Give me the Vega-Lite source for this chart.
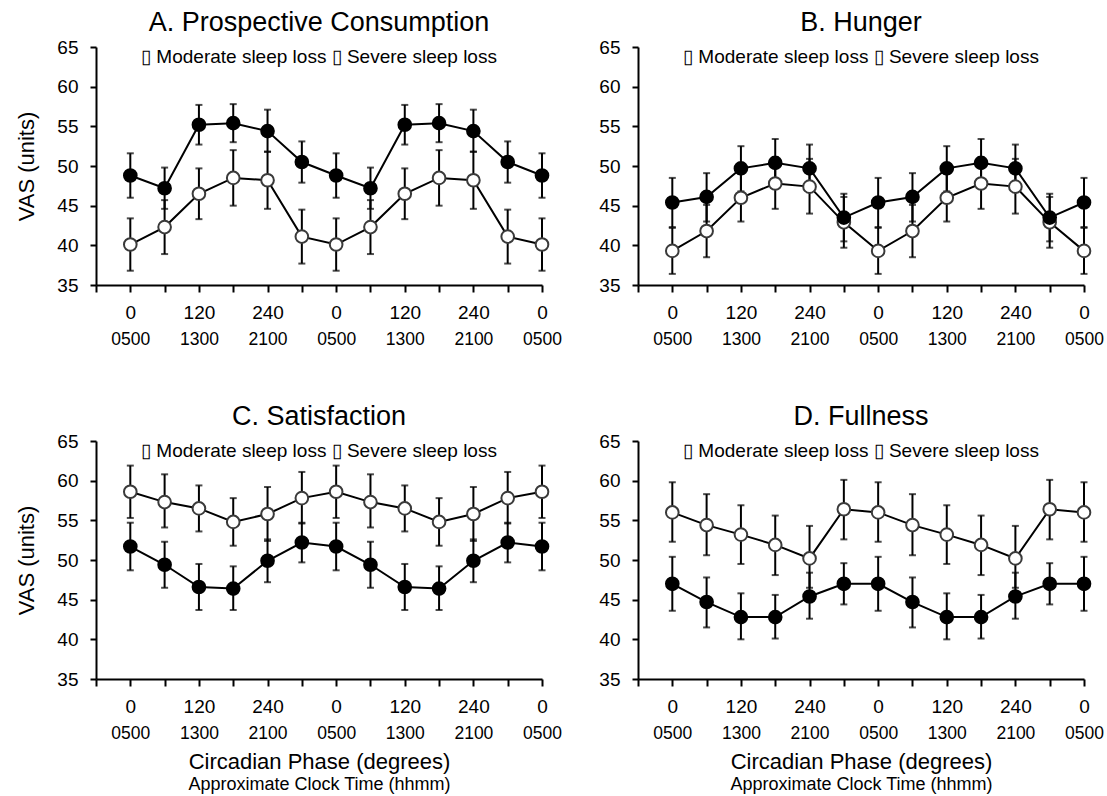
{
  "$schema": "https://vega.github.io/schema/vega-lite/v6.json",
  "padding": {"left": 15, "top": 9, "right": 5, "bottom": 2},
  "background": "white",
  "columns": 2,
  "spacing": {"column": 36, "row": 55},
  "datasets": {
    "d": [
      {"p":"A","g":"Moderate","i":0,"v":48.8,"lo":46.0,"hi":51.6},
      {"p":"A","g":"Moderate","i":1,"v":47.2,"lo":44.6,"hi":49.8},
      {"p":"A","g":"Moderate","i":2,"v":55.2,"lo":52.7,"hi":57.7},
      {"p":"A","g":"Moderate","i":3,"v":55.4,"lo":53.0,"hi":57.8},
      {"p":"A","g":"Moderate","i":4,"v":54.4,"lo":51.8,"hi":57.1},
      {"p":"A","g":"Moderate","i":5,"v":50.5,"lo":47.9,"hi":53.1},
      {"p":"A","g":"Moderate","i":6,"v":48.8,"lo":46.0,"hi":51.6},
      {"p":"A","g":"Moderate","i":7,"v":47.2,"lo":44.6,"hi":49.8},
      {"p":"A","g":"Moderate","i":8,"v":55.2,"lo":52.7,"hi":57.7},
      {"p":"A","g":"Moderate","i":9,"v":55.4,"lo":53.0,"hi":57.8},
      {"p":"A","g":"Moderate","i":10,"v":54.4,"lo":51.8,"hi":57.1},
      {"p":"A","g":"Moderate","i":11,"v":50.5,"lo":47.9,"hi":53.1},
      {"p":"A","g":"Moderate","i":12,"v":48.8,"lo":46.0,"hi":51.6},
      {"p":"A","g":"Severe","i":0,"v":40.1,"lo":36.8,"hi":43.4},
      {"p":"A","g":"Severe","i":1,"v":42.3,"lo":38.9,"hi":45.7},
      {"p":"A","g":"Severe","i":2,"v":46.5,"lo":43.3,"hi":49.7},
      {"p":"A","g":"Severe","i":3,"v":48.5,"lo":45.0,"hi":52.0},
      {"p":"A","g":"Severe","i":4,"v":48.2,"lo":44.6,"hi":51.8},
      {"p":"A","g":"Severe","i":5,"v":41.1,"lo":37.7,"hi":44.5},
      {"p":"A","g":"Severe","i":6,"v":40.1,"lo":36.8,"hi":43.4},
      {"p":"A","g":"Severe","i":7,"v":42.3,"lo":38.9,"hi":45.7},
      {"p":"A","g":"Severe","i":8,"v":46.5,"lo":43.3,"hi":49.7},
      {"p":"A","g":"Severe","i":9,"v":48.5,"lo":45.0,"hi":52.0},
      {"p":"A","g":"Severe","i":10,"v":48.2,"lo":44.6,"hi":51.8},
      {"p":"A","g":"Severe","i":11,"v":41.1,"lo":37.7,"hi":44.5},
      {"p":"A","g":"Severe","i":12,"v":40.1,"lo":36.8,"hi":43.4},
      {"p":"B","g":"Moderate","i":0,"v":45.4,"lo":42.3,"hi":48.5},
      {"p":"B","g":"Moderate","i":1,"v":46.1,"lo":43.0,"hi":49.1},
      {"p":"B","g":"Moderate","i":2,"v":49.7,"lo":46.8,"hi":52.5},
      {"p":"B","g":"Moderate","i":3,"v":50.4,"lo":47.4,"hi":53.4},
      {"p":"B","g":"Moderate","i":4,"v":49.7,"lo":46.7,"hi":52.7},
      {"p":"B","g":"Moderate","i":5,"v":43.5,"lo":40.5,"hi":46.5},
      {"p":"B","g":"Moderate","i":6,"v":45.4,"lo":42.3,"hi":48.5},
      {"p":"B","g":"Moderate","i":7,"v":46.1,"lo":43.0,"hi":49.1},
      {"p":"B","g":"Moderate","i":8,"v":49.7,"lo":46.8,"hi":52.5},
      {"p":"B","g":"Moderate","i":9,"v":50.4,"lo":47.4,"hi":53.4},
      {"p":"B","g":"Moderate","i":10,"v":49.7,"lo":46.7,"hi":52.7},
      {"p":"B","g":"Moderate","i":11,"v":43.5,"lo":40.5,"hi":46.5},
      {"p":"B","g":"Moderate","i":12,"v":45.4,"lo":42.3,"hi":48.5},
      {"p":"B","g":"Severe","i":0,"v":39.3,"lo":36.4,"hi":42.2},
      {"p":"B","g":"Severe","i":1,"v":41.8,"lo":38.5,"hi":45.1},
      {"p":"B","g":"Severe","i":2,"v":46.0,"lo":43.0,"hi":49.0},
      {"p":"B","g":"Severe","i":3,"v":47.8,"lo":44.6,"hi":51.1},
      {"p":"B","g":"Severe","i":4,"v":47.4,"lo":44.0,"hi":50.9},
      {"p":"B","g":"Severe","i":5,"v":42.9,"lo":39.7,"hi":46.1},
      {"p":"B","g":"Severe","i":6,"v":39.3,"lo":36.4,"hi":42.2},
      {"p":"B","g":"Severe","i":7,"v":41.8,"lo":38.5,"hi":45.1},
      {"p":"B","g":"Severe","i":8,"v":46.0,"lo":43.0,"hi":49.0},
      {"p":"B","g":"Severe","i":9,"v":47.8,"lo":44.6,"hi":51.1},
      {"p":"B","g":"Severe","i":10,"v":47.4,"lo":44.0,"hi":50.9},
      {"p":"B","g":"Severe","i":11,"v":42.9,"lo":39.7,"hi":46.1},
      {"p":"B","g":"Severe","i":12,"v":39.3,"lo":36.4,"hi":42.2},
      {"p":"C","g":"Moderate","i":0,"v":51.7,"lo":48.7,"hi":54.7},
      {"p":"C","g":"Moderate","i":1,"v":49.4,"lo":46.5,"hi":52.3},
      {"p":"C","g":"Moderate","i":2,"v":46.6,"lo":43.7,"hi":49.5},
      {"p":"C","g":"Moderate","i":3,"v":46.4,"lo":43.7,"hi":49.2},
      {"p":"C","g":"Moderate","i":4,"v":49.9,"lo":47.2,"hi":52.6},
      {"p":"C","g":"Moderate","i":5,"v":52.2,"lo":49.7,"hi":54.7},
      {"p":"C","g":"Moderate","i":6,"v":51.7,"lo":48.7,"hi":54.7},
      {"p":"C","g":"Moderate","i":7,"v":49.4,"lo":46.5,"hi":52.3},
      {"p":"C","g":"Moderate","i":8,"v":46.6,"lo":43.7,"hi":49.5},
      {"p":"C","g":"Moderate","i":9,"v":46.4,"lo":43.7,"hi":49.2},
      {"p":"C","g":"Moderate","i":10,"v":49.9,"lo":47.2,"hi":52.6},
      {"p":"C","g":"Moderate","i":11,"v":52.2,"lo":49.7,"hi":54.7},
      {"p":"C","g":"Moderate","i":12,"v":51.7,"lo":48.7,"hi":54.7},
      {"p":"C","g":"Severe","i":0,"v":58.6,"lo":55.3,"hi":61.9},
      {"p":"C","g":"Severe","i":1,"v":57.3,"lo":54.1,"hi":60.8},
      {"p":"C","g":"Severe","i":2,"v":56.5,"lo":53.6,"hi":59.4},
      {"p":"C","g":"Severe","i":3,"v":54.8,"lo":51.8,"hi":57.8},
      {"p":"C","g":"Severe","i":4,"v":55.8,"lo":52.4,"hi":59.2},
      {"p":"C","g":"Severe","i":5,"v":57.8,"lo":54.6,"hi":61.1},
      {"p":"C","g":"Severe","i":6,"v":58.6,"lo":55.3,"hi":61.9},
      {"p":"C","g":"Severe","i":7,"v":57.3,"lo":54.1,"hi":60.8},
      {"p":"C","g":"Severe","i":8,"v":56.5,"lo":53.6,"hi":59.4},
      {"p":"C","g":"Severe","i":9,"v":54.8,"lo":51.8,"hi":57.8},
      {"p":"C","g":"Severe","i":10,"v":55.8,"lo":52.4,"hi":59.2},
      {"p":"C","g":"Severe","i":11,"v":57.8,"lo":54.6,"hi":61.1},
      {"p":"C","g":"Severe","i":12,"v":58.6,"lo":55.3,"hi":61.9},
      {"p":"D","g":"Moderate","i":0,"v":47.0,"lo":43.6,"hi":50.4},
      {"p":"D","g":"Moderate","i":1,"v":44.7,"lo":41.5,"hi":47.8},
      {"p":"D","g":"Moderate","i":2,"v":42.8,"lo":40.0,"hi":45.8},
      {"p":"D","g":"Moderate","i":3,"v":42.8,"lo":40.1,"hi":45.6},
      {"p":"D","g":"Moderate","i":4,"v":45.4,"lo":42.6,"hi":48.4},
      {"p":"D","g":"Moderate","i":5,"v":47.0,"lo":44.4,"hi":49.6},
      {"p":"D","g":"Moderate","i":6,"v":47.0,"lo":43.6,"hi":50.4},
      {"p":"D","g":"Moderate","i":7,"v":44.7,"lo":41.5,"hi":47.8},
      {"p":"D","g":"Moderate","i":8,"v":42.8,"lo":40.0,"hi":45.8},
      {"p":"D","g":"Moderate","i":9,"v":42.8,"lo":40.1,"hi":45.6},
      {"p":"D","g":"Moderate","i":10,"v":45.4,"lo":42.6,"hi":48.4},
      {"p":"D","g":"Moderate","i":11,"v":47.0,"lo":44.4,"hi":49.6},
      {"p":"D","g":"Moderate","i":12,"v":47.0,"lo":43.6,"hi":50.4},
      {"p":"D","g":"Severe","i":0,"v":56.0,"lo":52.3,"hi":59.8},
      {"p":"D","g":"Severe","i":1,"v":54.4,"lo":50.6,"hi":58.3},
      {"p":"D","g":"Severe","i":2,"v":53.2,"lo":49.5,"hi":56.9},
      {"p":"D","g":"Severe","i":3,"v":51.9,"lo":48.1,"hi":55.6},
      {"p":"D","g":"Severe","i":4,"v":50.2,"lo":46.5,"hi":54.3},
      {"p":"D","g":"Severe","i":5,"v":56.4,"lo":52.6,"hi":60.1},
      {"p":"D","g":"Severe","i":6,"v":56.0,"lo":52.3,"hi":59.8},
      {"p":"D","g":"Severe","i":7,"v":54.4,"lo":50.6,"hi":58.3},
      {"p":"D","g":"Severe","i":8,"v":53.2,"lo":49.5,"hi":56.9},
      {"p":"D","g":"Severe","i":9,"v":51.9,"lo":48.1,"hi":55.6},
      {"p":"D","g":"Severe","i":10,"v":50.2,"lo":46.5,"hi":54.3},
      {"p":"D","g":"Severe","i":11,"v":56.4,"lo":52.6,"hi":60.1},
      {"p":"D","g":"Severe","i":12,"v":56.0,"lo":52.3,"hi":59.8}
    ],
    "leg": [
      {"p":"A","label":"▯  Moderate sleep loss  ▯  Severe sleep loss"},
      {"p":"B","label":"▯  Moderate sleep loss  ▯  Severe sleep loss"},
      {"p":"C","label":"▯  Moderate sleep loss  ▯  Severe sleep loss"},
      {"p":"D","label":"▯  Moderate sleep loss  ▯  Severe sleep loss"}
    ]
  },
  "concat": [
    {
      "width": 446, "height": 238,
      "title": {"text": "A. Prospective Consumption"},
      "data": {"name": "d"},
      "transform": [{"filter": "datum.p == 'A'"}],
      "resolve": {"axis": {"x": "independent"}},
      "layer": [
        {"mark": {"type": "line", "color": "black", "strokeWidth": 2},
         "encoding": {"x": {"field": "i", "type": "quantitative", "scale": {"domain": [-1, 12], "nice": false, "zero": false}, "axis": null},
                      "y": {"field": "v", "type": "quantitative", "scale": {"domain": [35, 65], "nice": false, "zero": false}, "axis": {"title": "VAS (units)"}},
                      "detail": {"field": "g"}}},
        {"mark": {"type": "rule", "color": "black", "strokeWidth": 2},
         "encoding": {"x": {"field": "i", "type": "quantitative", "axis": null}, "y": {"field": "lo", "type": "quantitative", "axis": {"title": "VAS (units)"}}, "y2": {"field": "hi"}}},
        {"mark": {"type": "tick", "orient": "horizontal", "color": "black", "thickness": 2, "size": 7},
         "encoding": {"x": {"field": "i", "type": "quantitative", "axis": null}, "y": {"field": "lo", "type": "quantitative", "axis": {"title": "VAS (units)"}}}},
        {"mark": {"type": "tick", "orient": "horizontal", "color": "black", "thickness": 2, "size": 7},
         "encoding": {"x": {"field": "i", "type": "quantitative", "axis": null}, "y": {"field": "hi", "type": "quantitative", "axis": {"title": "VAS (units)"}}}},
        {"mark": {"type": "point", "shape": "circle", "size": 160, "strokeWidth": 2, "opacity": 1, "filled": true},
         "encoding": {
           "x": {"field": "i", "type": "quantitative", "axis": {"orient": "bottom", "values": [-1,0,1,2,3,4,5,6,7,8,9,10,11,12], "labelExpr": "datum.value < 0 ? '' : datum.value % 6 == 0 ? '0' : datum.value % 6 == 2 ? '120' : datum.value % 6 == 4 ? '240' : ''", "tickSize": 7, "labelPadding": 11, "labelFontSize": 19, "title": null}},
           "y": {"field": "v", "type": "quantitative", "axis": {"title": "VAS (units)"}},
           "fill": {"field": "g", "type": "nominal", "scale": {"domain": ["Moderate", "Severe"], "range": ["black", "white"]}, "legend": null},
           "stroke": {"field": "g", "type": "nominal", "scale": {"domain": ["Moderate", "Severe"], "range": ["black", "#3a3a3a"]}, "legend": null},
           "order": {"field": "g", "sort": "descending"}}},
        {"mark": {"type": "point", "opacity": 0},
         "encoding": {"x": {"field": "i", "type": "quantitative", "axis": {"orient": "bottom", "values": [0,2,4,6,8,10,12], "labelExpr": "datum.value % 6 == 0 ? '0500' : datum.value % 6 == 2 ? '1300' : '2100'", "domain": false, "ticks": false, "tickSize": 0, "labelPadding": 45, "labelFontSize": 17.5, "title": null}},
                      "y": {"field": "v", "type": "quantitative", "axis": {"title": "VAS (units)"}}}},
        {"data": {"name": "leg"}, "transform": [{"filter": "datum.p == 'A'"}],
         "mark": {"type": "text", "fontSize": 19, "color": "black", "baseline": "middle", "align": "center"},
         "encoding": {"x": {"datum": 5.5, "type": "quantitative", "axis": null}, "y": {"datum": 63.8, "type": "quantitative", "axis": {"title": "VAS (units)"}}, "text": {"field": "label"}}}
      ]
    },
    {
      "width": 446, "height": 238,
      "title": {"text": "B. Hunger"},
      "data": {"name": "d"},
      "transform": [{"filter": "datum.p == 'B'"}],
      "resolve": {"axis": {"x": "independent"}},
      "layer": [
        {"mark": {"type": "line", "color": "black", "strokeWidth": 2},
         "encoding": {"x": {"field": "i", "type": "quantitative", "scale": {"domain": [-1, 12], "nice": false, "zero": false}, "axis": null},
                      "y": {"field": "v", "type": "quantitative", "scale": {"domain": [35, 65], "nice": false, "zero": false}, "axis": {"title": null}},
                      "detail": {"field": "g"}}},
        {"mark": {"type": "rule", "color": "black", "strokeWidth": 2},
         "encoding": {"x": {"field": "i", "type": "quantitative", "axis": null}, "y": {"field": "lo", "type": "quantitative", "axis": {"title": null}}, "y2": {"field": "hi"}}},
        {"mark": {"type": "tick", "orient": "horizontal", "color": "black", "thickness": 2, "size": 7},
         "encoding": {"x": {"field": "i", "type": "quantitative", "axis": null}, "y": {"field": "lo", "type": "quantitative", "axis": {"title": null}}}},
        {"mark": {"type": "tick", "orient": "horizontal", "color": "black", "thickness": 2, "size": 7},
         "encoding": {"x": {"field": "i", "type": "quantitative", "axis": null}, "y": {"field": "hi", "type": "quantitative", "axis": {"title": null}}}},
        {"mark": {"type": "point", "shape": "circle", "size": 160, "strokeWidth": 2, "opacity": 1, "filled": true},
         "encoding": {
           "x": {"field": "i", "type": "quantitative", "axis": {"orient": "bottom", "values": [-1,0,1,2,3,4,5,6,7,8,9,10,11,12], "labelExpr": "datum.value < 0 ? '' : datum.value % 6 == 0 ? '0' : datum.value % 6 == 2 ? '120' : datum.value % 6 == 4 ? '240' : ''", "tickSize": 7, "labelPadding": 11, "labelFontSize": 19, "title": null}},
           "y": {"field": "v", "type": "quantitative", "axis": {"title": null}},
           "fill": {"field": "g", "type": "nominal", "scale": {"domain": ["Moderate", "Severe"], "range": ["black", "white"]}, "legend": null},
           "stroke": {"field": "g", "type": "nominal", "scale": {"domain": ["Moderate", "Severe"], "range": ["black", "#3a3a3a"]}, "legend": null},
           "order": {"field": "g", "sort": "descending"}}},
        {"mark": {"type": "point", "opacity": 0},
         "encoding": {"x": {"field": "i", "type": "quantitative", "axis": {"orient": "bottom", "values": [0,2,4,6,8,10,12], "labelExpr": "datum.value % 6 == 0 ? '0500' : datum.value % 6 == 2 ? '1300' : '2100'", "domain": false, "ticks": false, "tickSize": 0, "labelPadding": 45, "labelFontSize": 17.5, "title": null}},
                      "y": {"field": "v", "type": "quantitative", "axis": {"title": null}}}},
        {"data": {"name": "leg"}, "transform": [{"filter": "datum.p == 'B'"}],
         "mark": {"type": "text", "fontSize": 19, "color": "black", "baseline": "middle", "align": "center"},
         "encoding": {"x": {"datum": 5.5, "type": "quantitative", "axis": null}, "y": {"datum": 63.8, "type": "quantitative", "axis": {"title": null}}, "text": {"field": "label"}}}
      ]
    },
    {
      "width": 446, "height": 238,
      "title": {"text": "C. Satisfaction"},
      "data": {"name": "d"},
      "transform": [{"filter": "datum.p == 'C'"}],
      "resolve": {"axis": {"x": "independent"}},
      "layer": [
        {"mark": {"type": "line", "color": "black", "strokeWidth": 2},
         "encoding": {"x": {"field": "i", "type": "quantitative", "scale": {"domain": [-1, 12], "nice": false, "zero": false}, "axis": null},
                      "y": {"field": "v", "type": "quantitative", "scale": {"domain": [35, 65], "nice": false, "zero": false}, "axis": {"title": "VAS (units)"}},
                      "detail": {"field": "g"}}},
        {"mark": {"type": "rule", "color": "black", "strokeWidth": 2},
         "encoding": {"x": {"field": "i", "type": "quantitative", "axis": null}, "y": {"field": "lo", "type": "quantitative", "axis": {"title": "VAS (units)"}}, "y2": {"field": "hi"}}},
        {"mark": {"type": "tick", "orient": "horizontal", "color": "black", "thickness": 2, "size": 7},
         "encoding": {"x": {"field": "i", "type": "quantitative", "axis": null}, "y": {"field": "lo", "type": "quantitative", "axis": {"title": "VAS (units)"}}}},
        {"mark": {"type": "tick", "orient": "horizontal", "color": "black", "thickness": 2, "size": 7},
         "encoding": {"x": {"field": "i", "type": "quantitative", "axis": null}, "y": {"field": "hi", "type": "quantitative", "axis": {"title": "VAS (units)"}}}},
        {"mark": {"type": "point", "shape": "circle", "size": 160, "strokeWidth": 2, "opacity": 1, "filled": true},
         "encoding": {
           "x": {"field": "i", "type": "quantitative", "axis": {"orient": "bottom", "values": [-1,0,1,2,3,4,5,6,7,8,9,10,11,12], "labelExpr": "datum.value < 0 ? '' : datum.value % 6 == 0 ? '0' : datum.value % 6 == 2 ? '120' : datum.value % 6 == 4 ? '240' : ''", "tickSize": 7, "labelPadding": 11, "labelFontSize": 19, "title": null}},
           "y": {"field": "v", "type": "quantitative", "axis": {"title": "VAS (units)"}},
           "fill": {"field": "g", "type": "nominal", "scale": {"domain": ["Moderate", "Severe"], "range": ["black", "white"]}, "legend": null},
           "stroke": {"field": "g", "type": "nominal", "scale": {"domain": ["Moderate", "Severe"], "range": ["black", "#3a3a3a"]}, "legend": null},
           "order": {"field": "g", "sort": "descending"}}},
        {"mark": {"type": "point", "opacity": 0},
         "encoding": {"x": {"field": "i", "type": "quantitative", "axis": {"orient": "bottom", "values": [0,2,4,6,8,10,12], "labelExpr": "datum.value % 6 == 0 ? '0500' : datum.value % 6 == 2 ? '1300' : '2100'", "domain": false, "ticks": false, "tickSize": 0, "labelPadding": 45, "labelFontSize": 17.5, "title": "Circadian Phase (degrees)", "titleFontSize": 22, "titlePadding": 10}},
                      "y": {"field": "v", "type": "quantitative", "axis": {"title": "VAS (units)"}}}},
        {"mark": {"type": "point", "opacity": 0},
         "encoding": {"x": {"field": "i", "type": "quantitative", "axis": {"orient": "bottom", "labels": false, "domain": false, "ticks": false, "tickSize": 0, "title": "Approximate Clock Time (hhmm)", "titleFontSize": 18, "titlePadding": 96}},
                      "y": {"field": "v", "type": "quantitative", "axis": {"title": "VAS (units)"}}}},
        {"data": {"name": "leg"}, "transform": [{"filter": "datum.p == 'C'"}],
         "mark": {"type": "text", "fontSize": 19, "color": "black", "baseline": "middle", "align": "center"},
         "encoding": {"x": {"datum": 5.5, "type": "quantitative", "axis": null}, "y": {"datum": 63.8, "type": "quantitative", "axis": {"title": "VAS (units)"}}, "text": {"field": "label"}}}
      ]
    },
    {
      "width": 446, "height": 238,
      "title": {"text": "D. Fullness"},
      "data": {"name": "d"},
      "transform": [{"filter": "datum.p == 'D'"}],
      "resolve": {"axis": {"x": "independent"}},
      "layer": [
        {"mark": {"type": "line", "color": "black", "strokeWidth": 2},
         "encoding": {"x": {"field": "i", "type": "quantitative", "scale": {"domain": [-1, 12], "nice": false, "zero": false}, "axis": null},
                      "y": {"field": "v", "type": "quantitative", "scale": {"domain": [35, 65], "nice": false, "zero": false}, "axis": {"title": null}},
                      "detail": {"field": "g"}}},
        {"mark": {"type": "rule", "color": "black", "strokeWidth": 2},
         "encoding": {"x": {"field": "i", "type": "quantitative", "axis": null}, "y": {"field": "lo", "type": "quantitative", "axis": {"title": null}}, "y2": {"field": "hi"}}},
        {"mark": {"type": "tick", "orient": "horizontal", "color": "black", "thickness": 2, "size": 7},
         "encoding": {"x": {"field": "i", "type": "quantitative", "axis": null}, "y": {"field": "lo", "type": "quantitative", "axis": {"title": null}}}},
        {"mark": {"type": "tick", "orient": "horizontal", "color": "black", "thickness": 2, "size": 7},
         "encoding": {"x": {"field": "i", "type": "quantitative", "axis": null}, "y": {"field": "hi", "type": "quantitative", "axis": {"title": null}}}},
        {"mark": {"type": "point", "shape": "circle", "size": 160, "strokeWidth": 2, "opacity": 1, "filled": true},
         "encoding": {
           "x": {"field": "i", "type": "quantitative", "axis": {"orient": "bottom", "values": [-1,0,1,2,3,4,5,6,7,8,9,10,11,12], "labelExpr": "datum.value < 0 ? '' : datum.value % 6 == 0 ? '0' : datum.value % 6 == 2 ? '120' : datum.value % 6 == 4 ? '240' : ''", "tickSize": 7, "labelPadding": 11, "labelFontSize": 19, "title": null}},
           "y": {"field": "v", "type": "quantitative", "axis": {"title": null}},
           "fill": {"field": "g", "type": "nominal", "scale": {"domain": ["Moderate", "Severe"], "range": ["black", "white"]}, "legend": null},
           "stroke": {"field": "g", "type": "nominal", "scale": {"domain": ["Moderate", "Severe"], "range": ["black", "#3a3a3a"]}, "legend": null},
           "order": {"field": "g", "sort": "descending"}}},
        {"mark": {"type": "point", "opacity": 0},
         "encoding": {"x": {"field": "i", "type": "quantitative", "axis": {"orient": "bottom", "values": [0,2,4,6,8,10,12], "labelExpr": "datum.value % 6 == 0 ? '0500' : datum.value % 6 == 2 ? '1300' : '2100'", "domain": false, "ticks": false, "tickSize": 0, "labelPadding": 45, "labelFontSize": 17.5, "title": "Circadian Phase (degrees)", "titleFontSize": 22, "titlePadding": 10}},
                      "y": {"field": "v", "type": "quantitative", "axis": {"title": null}}}},
        {"mark": {"type": "point", "opacity": 0},
         "encoding": {"x": {"field": "i", "type": "quantitative", "axis": {"orient": "bottom", "labels": false, "domain": false, "ticks": false, "tickSize": 0, "title": "Approximate Clock Time (hhmm)", "titleFontSize": 18, "titlePadding": 96}},
                      "y": {"field": "v", "type": "quantitative", "axis": {"title": null}}}},
        {"data": {"name": "leg"}, "transform": [{"filter": "datum.p == 'D'"}],
         "mark": {"type": "text", "fontSize": 19, "color": "black", "baseline": "middle", "align": "center"},
         "encoding": {"x": {"datum": 5.5, "type": "quantitative", "axis": null}, "y": {"datum": 63.8, "type": "quantitative", "axis": {"title": null}}, "text": {"field": "label"}}}
      ]
    }
  ],
  "config": {
    "font": "Liberation Sans",
    "view": {"stroke": null},
    "axis": {
      "grid": false, "domainColor": "black", "domainWidth": 2, "tickColor": "black", "tickWidth": 2,
      "labelColor": "black", "titleColor": "black", "labelFont": "Liberation Sans", "titleFont": "Liberation Sans",
      "titleFontWeight": "normal", "labelFlush": false, "labelOverlap": false, "labelBound": false
    },
    "axisY": {"tickSize": 6, "labelPadding": 12, "labelFontSize": 19, "titleFontSize": 22, "titlePadding": 18},
    "title": {"font": "Liberation Sans", "fontSize": 27, "fontWeight": "normal", "color": "black", "frame": "group", "anchor": "middle", "offset": 1}
  }
}
